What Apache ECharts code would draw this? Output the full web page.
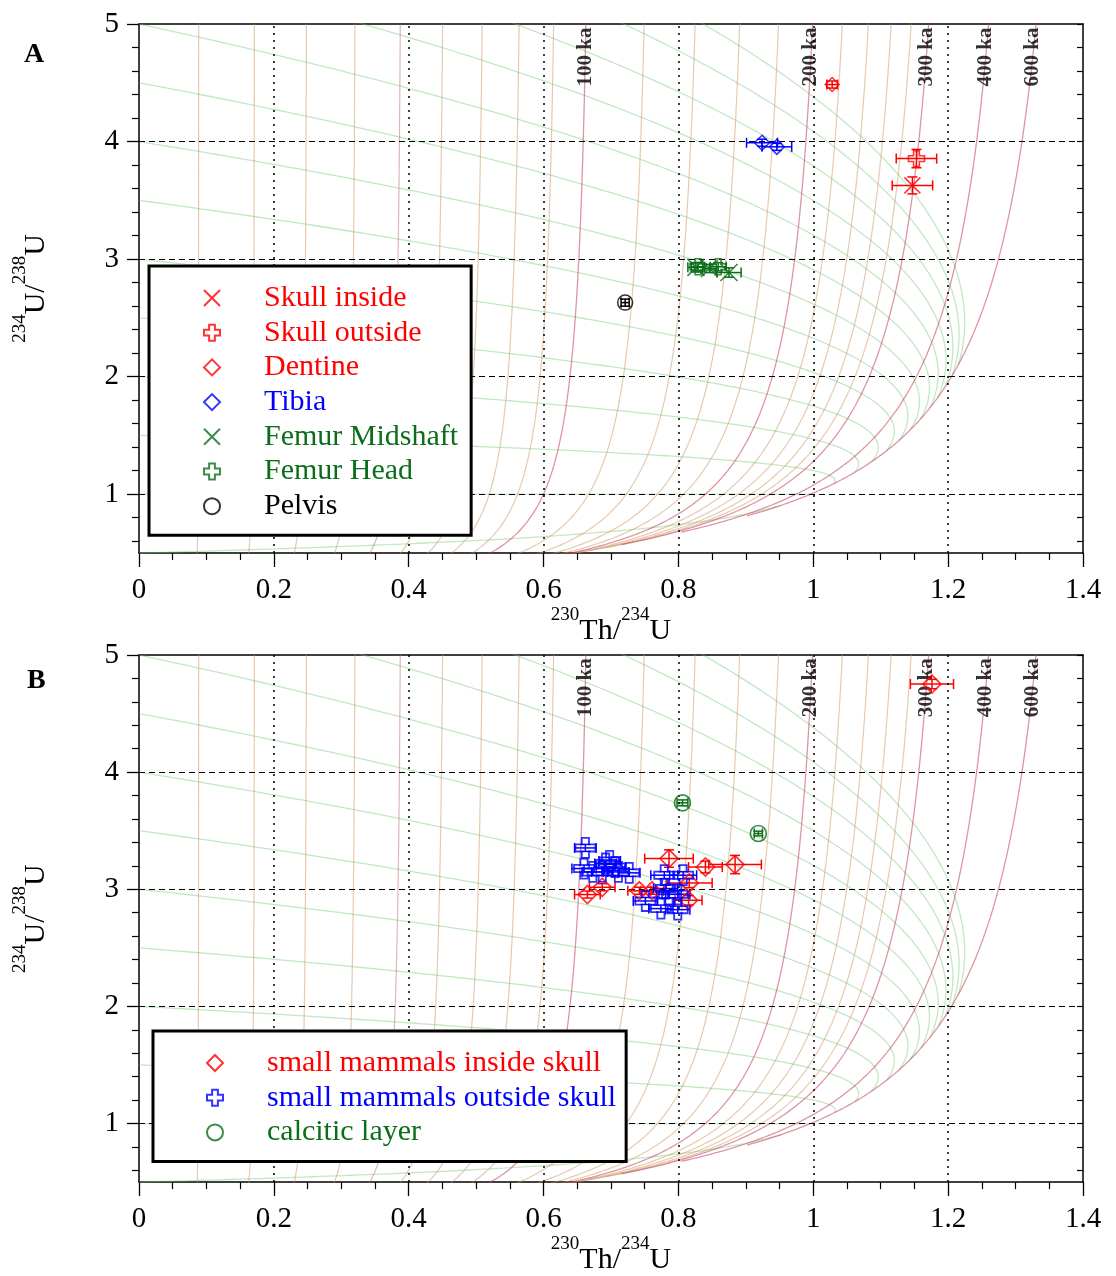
<!DOCTYPE html>
<html>
<head>
<meta charset="utf-8">
<script src="https://cdn.jsdelivr.net/npm/echarts/dist/echarts.min.js"></script>
<style>html,body{margin:0;padding:0;background:#fff}#c{width:1116px;height:1276px}</style>
</head>
<body>
<div id="c"></div>
<script>
// ---------------- data ----------------
const yTickLabels = [1, 2, 3, 4, 5];
const yMinorTicks = [0.6, 0.8, 1.2, 1.4, 1.6, 1.8, 2.2, 2.4, 2.6, 2.8, 3.2, 3.4, 3.6, 3.8, 4.2, 4.4, 4.6, 4.8];
const xGridValues = [0.2, 0.4, 0.6, 0.8, 1.0, 1.2];
const yGridValues = [1, 2, 3, 4];

// isochron ages (ka)
const minorAges = [10, 20, 30, 40, 60, 70, 80, 90, 120, 140, 160, 180, 220, 240, 260, 280];
const midAges = [50];
const majorAges = [100, 200, 300, 400, 600];
const majorAgeLabels = ['100 ka', '200 ka', '300 ka', '400 ka', '600 ka'];
// initial 234U/238U of the evolution curves
const initialRatios = [0.5, 1, 1.5, 2, 2.5, 3, 3.5, 4, 4.5, 5, 5.5, 6, 6.5, 7];
const evolutionEndKa = 600;

// half-lives (years)
const HALF_LIFE_TH230 = 75690;
const HALF_LIFE_U234 = 245250;

// Panel A samples: [230Th/234U, 234U/238U, xErr, yErr]
const skullInside = [[1.147, 3.627, 0.030, 0.072]];
const skullOutside = [[1.153, 3.855, 0.030, 0.078]];
const dentine = [[1.028, 4.485, 0.008, 0.030]];
const tibia = [[0.924, 3.990, 0.023, 0.030], [0.946, 3.955, 0.022, 0.030]];
const femurMidshaft = [[0.826, 2.930, 0.012, 0.040], [0.846, 2.920, 0.010, 0.035], [0.875, 2.886, 0.018, 0.040]];
const femurHead = [[0.829, 2.935, 0.010, 0.035], [0.859, 2.935, 0.012, 0.035]];
const pelvis = [[0.721, 2.630, 0.006, 0.030]];

// Panel B samples
const smallInside = [
  [0.786, 3.262, 0.036, 0.074], [0.840, 3.190, 0.025, 0.050], [0.884, 3.211, 0.039, 0.078],
  [0.687, 3.017, 0.019, 0.030], [0.665, 2.955, 0.019, 0.030], [0.742, 2.987, 0.017, 0.030],
  [0.761, 2.987, 0.017, 0.030], [0.816, 3.054, 0.034, 0.040], [0.815, 2.906, 0.020, 0.040],
  [1.176, 4.752, 0.032, 0.040]
];
const smallOutside = [
  [0.662, 3.353, 0.016, 0.030], [0.660, 3.177, 0.018, 0.030], [0.673, 3.148, 0.016, 0.030],
  [0.687, 3.148, 0.016, 0.030], [0.692, 3.220, 0.016, 0.030], [0.698, 3.242, 0.016, 0.030],
  [0.706, 3.190, 0.016, 0.030], [0.711, 3.148, 0.016, 0.030], [0.727, 3.140, 0.016, 0.030],
  [0.779, 3.120, 0.020, 0.030], [0.807, 3.120, 0.020, 0.030], [0.781, 3.006, 0.018, 0.030],
  [0.786, 2.957, 0.018, 0.030], [0.799, 2.957, 0.018, 0.030], [0.751, 2.900, 0.018, 0.030],
  [0.774, 2.835, 0.018, 0.030], [0.799, 2.826, 0.018, 0.030]
];
const calcitic = [[0.806, 3.738, 0.008, 0.025], [0.9185, 3.476, 0.006, 0.020]];

// ---------------- model curves (closed-system U-series decay) ----------------
const L230 = Math.LN2 / HALF_LIFE_TH230;
const L234 = Math.LN2 / HALF_LIFE_U234;
const K = L230 / (L230 - L234);
function thTerms(tKa) {
  const t = tKa * 1000;
  return { A: 1 - Math.exp(-L230 * t), B: K * (1 - Math.exp(-(L230 - L234) * t)) };
}
function isochron(ageKa) {
  const { A, B } = thTerms(ageKa);
  const yMin = Math.max(1 - Math.exp(-L234 * ageKa * 1000), 0.3);
  const pts = [];
  const n = 400;
  for (let i = 0; i <= n; i++) {
    const y = yMin + (5.3 - yMin) * i / n;
    pts.push([(A + (y - 1) * B) / y, y]);
  }
  return pts;
}
function evolution(g0) {
  const pts = [];
  for (let tKa = 0; tKa <= evolutionEndKa; tKa += 2) {
    const { A, B } = thTerms(tKa);
    const y = 1 + (g0 - 1) * Math.exp(-L234 * tKa * 1000);
    pts.push([(A + (y - 1) * B) / y, y]);
  }
  return pts;
}
function labelPoint(ageKa, yLab) {
  const { A, B } = thTerms(ageKa);
  return [(A + (yLab - 1) * B) / yLab, yLab];
}

// ---------------- styles ----------------
const SERIF = 'Liberation Serif';
const RED = '#ff0000', BLUE = '#0000ff', DGREEN = '#0b6e1a', BLACK = '#000000';
const GREEN_C = 'rgba(110,200,110,0.42)';
const TAN_C = 'rgba(205,150,95,0.5)';
const MID_C = 'rgba(195,110,110,0.5)';
const RED_C = 'rgba(195,60,95,0.55)';

const P_X = 'path://M0,0L10,10M10,0L0,10';
const P_PLUS = 'path://M3.2,0H6.8V3.2H10V6.8H6.8V10H3.2V6.8H0V3.2H3.2Z';
const P_DIAMOND = 'path://M5,0L10,5L5,10L0,5Z';

function errRender(params, api) {
  const x = api.value(0), y = api.value(1), ex = api.value(2), ey = api.value(3);
  const l = api.coord([x - ex, y]), r = api.coord([x + ex, y]);
  const t = api.coord([x, y + ey]), b = api.coord([x, y - ey]);
  const cap = 5;
  const style = { stroke: api.visual('color'), lineWidth: 1.5 };
  return {
    type: 'group', children: [
      { type: 'line', shape: { x1: l[0], y1: l[1], x2: r[0], y2: r[1] }, style },
      { type: 'line', shape: { x1: l[0], y1: l[1] - cap, x2: l[0], y2: l[1] + cap }, style },
      { type: 'line', shape: { x1: r[0], y1: r[1] - cap, x2: r[0], y2: r[1] + cap }, style },
      { type: 'line', shape: { x1: t[0], y1: t[1], x2: b[0], y2: b[1] }, style },
      { type: 'line', shape: { x1: t[0] - cap, y1: t[1], x2: t[0] + cap, y2: t[1] }, style },
      { type: 'line', shape: { x1: b[0] - cap, y1: b[1], x2: b[0] + cap, y2: b[1] }, style }
    ]
  };
}

const series = [];
function addCurves(xi, yi) {
  const base = { type: 'line', xAxisIndex: xi, yAxisIndex: yi, showSymbol: false, symbol: 'none',
    silent: true, animation: false, z: 1, clip: true };
  initialRatios.forEach(g => series.push(Object.assign({}, base, { data: evolution(g), lineStyle: { color: GREEN_C, width: 1.3 } })));
  minorAges.forEach(a => series.push(Object.assign({}, base, { data: isochron(a), lineStyle: { color: TAN_C, width: 1.2 } })));
  midAges.forEach(a => series.push(Object.assign({}, base, { data: isochron(a), lineStyle: { color: MID_C, width: 1.2 } })));
  majorAges.forEach(a => series.push(Object.assign({}, base, { data: isochron(a), lineStyle: { color: RED_C, width: 1.3 } })));
  // grid lines
  series.push({
    type: 'line', xAxisIndex: xi, yAxisIndex: yi, data: [], silent: true, animation: false, z: 2,
    markLine: {
      silent: true, animation: false, symbol: ['none', 'none'], label: { show: false },
      data: yGridValues.map(v => ({ yAxis: v, lineStyle: { color: '#000', type: [6, 4], width: 1 } }))
        .concat(xGridValues.map(v => ({ xAxis: v, lineStyle: { color: '#000', type: [2, 5], width: 1.5 } })))
    }
  });
  // age labels
  series.push({
    type: 'scatter', xAxisIndex: xi, yAxisIndex: yi, silent: true, animation: false, z: 3,
    symbolSize: 1, itemStyle: { color: 'rgba(0,0,0,0)' },
    data: majorAges.map((a, i) => ({ value: labelPoint(a, 4.72), name: majorAgeLabels[i] })),
    label: { show: true, position: 'inside', rotate: 90, formatter: '{b}', fontFamily: SERIF,
      fontWeight: 'bold', fontSize: 21, color: '#000' }
  });
}
function addSample(name, data, color, symbol, size, lw, xi, yi) {
  series.push({
    name: name + ' err', type: 'custom', xAxisIndex: xi, yAxisIndex: yi, renderItem: errRender,
    data: data, itemStyle: { color: color }, animation: false, z: 4, silent: true, clip: true
  });
  series.push({
    name: name, type: 'scatter', xAxisIndex: xi, yAxisIndex: yi, animation: false, z: 5,
    symbol: symbol, symbolSize: size, symbolKeepAspect: true,
    data: data.map(d => [d[0], d[1]]),
    itemStyle: { color: 'rgba(0,0,0,0)', borderColor: color, borderWidth: lw }
  });
}

addCurves(0, 0);
addCurves(2, 3);
addSample('Skull inside', skullInside, RED, P_X, 16, 1.5, 0, 0);
addSample('Skull outside', skullOutside, RED, P_PLUS, 16, 1.6, 0, 0);
addSample('Dentine', dentine, RED, P_DIAMOND, 14, 1.5, 0, 0);
addSample('Tibia', tibia, BLUE, P_DIAMOND, 15, 1.5, 0, 0);
addSample('Femur Midshaft', femurMidshaft, DGREEN, P_X, 17, 1.7, 0, 0);
addSample('Femur Head', femurHead, DGREEN, P_PLUS, 16, 1.6, 0, 0);
addSample('Pelvis', pelvis, BLACK, 'circle', 15, 1.5, 0, 0);
addSample('small mammals inside skull', smallInside, RED, P_DIAMOND, 18, 1.7, 2, 3);
addSample('small mammals outside skull', smallOutside, BLUE, P_PLUS, 20, 1.8, 2, 3);
addSample('calcitic layer', calcitic, DGREEN, 'circle', 16, 1.7, 2, 3);

// ---------------- axes ----------------
const richName = {
  main: { fontFamily: SERIF, fontSize: 30, color: '#000', lineHeight: 40, verticalAlign: 'bottom' },
  sup: { fontFamily: SERIF, fontSize: 19, color: '#000', verticalAlign: 'top' }
};
function xAxes(gi) {
  return [{
    type: 'value', gridIndex: gi, min: 0, max: 1.4, interval: 0.2, position: 'bottom',
    name: '{sup|230}{main|Th/}{sup|234}{main|U}', nameLocation: 'middle', nameGap: 50,
    nameTextStyle: { rich: richName },
    axisLine: { show: true, onZero: false, lineStyle: { color: '#000', width: 1.5 } },
    axisTick: { show: true, inside: false, length: 14, lineStyle: { color: '#000', width: 1.3 } },
    minorTick: { show: true, splitNumber: 4, length: 7, lineStyle: { color: '#000', width: 1.2 } },
    axisLabel: { color: '#000', fontFamily: SERIF, fontSize: 29, margin: 23 },
    splitLine: { show: false }
  }, {
    type: 'value', gridIndex: gi, min: 0, max: 1.4, position: 'top',
    axisLine: { show: true, onZero: false, lineStyle: { color: '#000', width: 1.5 } },
    axisTick: { show: false }, axisLabel: { show: false }, splitLine: { show: false }
  }];
}
function yAxes(gi) {
  return [{
    type: 'value', gridIndex: gi, min: 0.5, max: 5, position: 'left',
    name: '{sup|234}{main|U/}{sup|238}{main|U}', nameLocation: 'middle', nameGap: 88, nameRotate: 90,
    nameTextStyle: { rich: richName },
    axisLine: { show: true, onZero: false, lineStyle: { color: '#000', width: 1.5 } },
    axisTick: { show: true, inside: false, length: 12, customValues: yTickLabels, lineStyle: { color: '#000', width: 1.3 } },
    axisLabel: { color: '#000', fontFamily: SERIF, fontSize: 29, margin: 20, customValues: yTickLabels },
    splitLine: { show: false }
  }, {
    type: 'value', gridIndex: gi, min: 0.5, max: 5, position: 'left',
    axisLine: { show: false },
    axisTick: { show: true, inside: false, length: 7, customValues: yMinorTicks, lineStyle: { color: '#000', width: 1.2 } },
    axisLabel: { show: false, customValues: yMinorTicks }, splitLine: { show: false }
  }, {
    type: 'value', gridIndex: gi, min: 0.5, max: 5, position: 'right',
    axisLine: { show: true, onZero: false, lineStyle: { color: '#000', width: 1.5 } },
    axisTick: { show: true, inside: true, length: 6, customValues: yTickLabels.concat(yMinorTicks), lineStyle: { color: '#000', width: 1.2 } },
    axisLabel: { show: false, customValues: yTickLabels.concat(yMinorTicks) }, splitLine: { show: false }
  }];
}

const legendBase = {
  orient: 'vertical', itemWidth: 94, itemHeight: 16, itemGap: 4.7, selectedMode: false,
  z: 20, zlevel: 0,
  backgroundColor: '#ffffff', borderColor: '#000', borderWidth: 3, borderRadius: 0,
  textStyle: { fontFamily: SERIF, fontSize: 30, lineHeight: 30 }
};
const legendA = Object.assign({}, legendBase, {
  left: 149, top: 266, padding: [17, 13, 14, 54],
  data: [
    { name: 'Skull inside', textStyle: { color: RED } },
    { name: 'Skull outside', textStyle: { color: RED } },
    { name: 'Dentine', textStyle: { color: RED } },
    { name: 'Tibia', textStyle: { color: BLUE } },
    { name: 'Femur Midshaft', textStyle: { color: DGREEN } },
    { name: 'Femur Head', textStyle: { color: DGREEN } },
    { name: 'Pelvis', textStyle: { color: BLACK } }
  ]
});
const legendB = Object.assign({}, legendBase, {
  left: 153, top: 1031, padding: [17, 10, 14, 53],
  data: [
    { name: 'small mammals inside skull', textStyle: { color: RED } },
    { name: 'small mammals outside skull', textStyle: { color: BLUE } },
    { name: 'calcitic layer', textStyle: { color: DGREEN } }
  ]
});

const option = {
  backgroundColor: '#fff',
  animation: false,
  title: [
    { text: 'A', left: 19, top: 36, textStyle: { fontFamily: SERIF, fontWeight: 'bold', fontSize: 28, color: '#000' } },
    { text: 'B', left: 22, top: 662, textStyle: { fontFamily: SERIF, fontWeight: 'bold', fontSize: 28, color: '#000' } }
  ],
  grid: [
    { left: 139, top: 24, width: 944, height: 529 },
    { left: 139, top: 655, width: 944, height: 528 }
  ],
  xAxis: xAxes(0).concat(xAxes(1)),
  yAxis: yAxes(0).concat(yAxes(1)),
  legend: [legendA, legendB],
  series: series
};
const chart = echarts.init(document.getElementById('c'), null, { renderer: 'canvas' });
chart.setOption(option);
</script>
</body>
</html>
